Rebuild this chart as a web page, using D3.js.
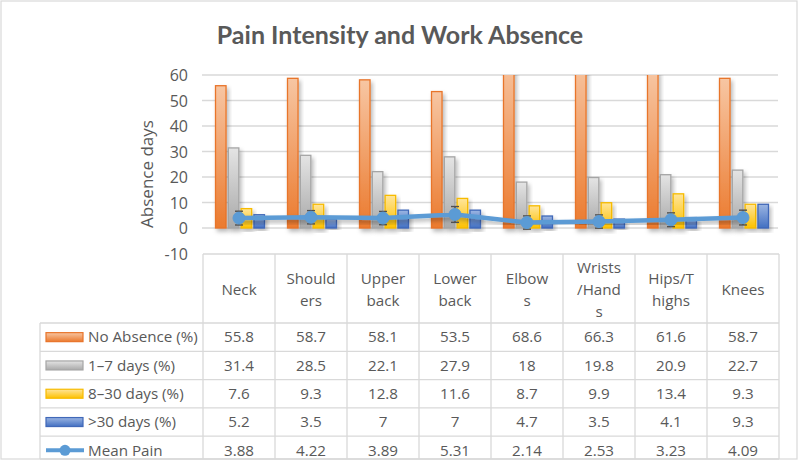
<!DOCTYPE html>
<html><head><meta charset="utf-8">
<script src="https://cdn.jsdelivr.net/npm/d3@7/dist/d3.min.js"></script>
<style>
html,body{margin:0;padding:0;background:#fff;}
svg{display:block;font-family:"Open Sans",sans-serif;}
</style></head>
<body><svg id="chart" width="800" height="461"></svg>
<script>
const title = "Pain Intensity and Work Absence";
const yLabel = "Absence days";
const categories = ["Neck","Shoulders","Upper back","Lower back","Elbows","Wrists/Hands","Hips/Thighs","Knees"];
const headerLines = [["Neck"],["Should","ers"],["Upper","back"],["Lower","back"],["Elbow","s"],["Wrists","/Hand","s"],["Hips/T","highs"],["Knees"]];
const seriesNames = ["No Absence (%)","1–7 days (%)","8–30 days (%)",">30 days (%)","Mean Pain"];
const noAbsence = [55.8,58.7,58.1,53.5,68.6,66.3,61.6,58.7];
const days1to7 = [31.4,28.5,22.1,27.9,18,19.8,20.9,22.7];
const days8to30 = [7.6,9.3,12.8,11.6,8.7,9.9,13.4,9.3];
const over30 = [5.2,3.5,7,7,4.7,3.5,4.1,9.3];
const meanPain = [3.88,4.22,3.89,5.31,2.14,2.53,3.23,4.09];
const painError = [2.7,2.6,2.6,3.1,2.6,2.6,2.7,2.9];
const yTicks = [-10,0,10,20,30,40,50,60];

const barSeries = [noAbsence, days1to7, days8to30, over30];
const barColors = [
  {top:"#f7c6a3", bot:"#eb7a2e", stroke:"#e8742a"},
  {top:"#e4e4e4", bot:"#a9a9a9", stroke:"#a5a5a5"},
  {top:"#ffe59a", bot:"#fdc100", stroke:"#f7bb00"},
  {top:"#9bb5e2", bot:"#4370c2", stroke:"#4068b8"}
];
const lineColor = "#5b9bd5";
const textColor = "#595959";
const gridColor = "#d9d9d9";

const svg = d3.select("#chart");
const W = 800, H = 461;
const plotL = 203, plotR = 779, plotT = 75, plotB = 253.5;
const rowTop = 254, headerBottom = 323, rowH = 28.3, legendL = 40, tableBottom = 459;
const tableFont = 15.2;

const defs = svg.append("defs");
barColors.forEach((c,i)=>{
  const g = defs.append("linearGradient").attr("id","grad"+i).attr("x1",0).attr("x2",0).attr("y1",0).attr("y2",1);
  g.append("stop").attr("offset","0%").attr("stop-color",c.top);
  g.append("stop").attr("offset","100%").attr("stop-color",c.bot);
});
const f = defs.append("filter").attr("id","shadow").attr("x","-50%").attr("y","-10%").attr("width","200%").attr("height","130%");
f.append("feDropShadow").attr("dx",2).attr("dy",3).attr("stdDeviation",2).attr("flood-color","#000").attr("flood-opacity",0.28);
defs.append("clipPath").attr("id","plotclip").append("rect").attr("x",plotL).attr("y",plotT).attr("width",plotR-plotL).attr("height",plotB-plotT+10);

// background + border
svg.append("rect").attr("x",1).attr("y",1).attr("width",W-4).attr("height",tableBottom-1).attr("fill","#fff").attr("stroke",gridColor).attr("stroke-width",1.2);

// title
svg.append("text").attr("x",400).attr("y",44).attr("text-anchor","middle")
  .attr("font-family","Lato, 'Open Sans', sans-serif").attr("font-weight","bold").attr("font-size",25)
  .attr("fill",textColor).text(title);

const x = d3.scaleBand().domain(categories).range([plotL, plotR]).padding(0);
const y = d3.scaleLinear().domain([-10,60]).range([plotB, plotT]);
const xs = d3.scaleBand().domain(d3.range(4)).range([12, x.bandwidth()-10]).paddingInner(0.1);

// grid
svg.append("g").selectAll("line").data(yTicks.filter(t=>t>-10)).join("line")
  .attr("x1",plotL-1).attr("x2",plotR-1).attr("y1",d=>y(d)).attr("y2",d=>y(d))
  .attr("stroke",gridColor).attr("stroke-width",1.3);

// y axis labels
const yAxis = d3.axisLeft(y).tickValues(yTicks).tickFormat(d=>String(d)).tickSize(0).tickPadding(0);
const ya = svg.append("g").attr("transform","translate(188,0)").call(yAxis);
ya.select(".domain").remove();
ya.selectAll("text").attr("font-family","'Open Sans', sans-serif").attr("font-size",16).attr("fill",textColor).attr("dy","0.35em");

svg.append("text").attr("transform","translate(153,174) rotate(-90)").attr("text-anchor","middle")
  .attr("font-size",17).attr("fill",textColor).text(yLabel);

// bars
const barsG = svg.append("g").attr("clip-path","url(#plotclip)");
barSeries.forEach((vals,si)=>{
  barsG.append("g").selectAll("rect").data(vals).join("rect")
    .attr("x",(d,i)=>x(categories[i])+xs(si)+0.5)
    .attr("y",d=>y(d))
    .attr("width",xs.bandwidth()-1)
    .attr("height",d=>y(0)-y(d))
    .attr("fill","url(#grad"+si+")")
    .attr("stroke",barColors[si].stroke).attr("stroke-width",1.3)
    .attr("filter","url(#shadow)");
});

// mean pain line
const cx = i => x(categories[i]) + x.bandwidth()/2;
const line = d3.line().x((d,i)=>cx(i)).y(d=>y(d));
svg.append("path").datum(meanPain).attr("d",line).attr("fill","none").attr("stroke",lineColor)
  .attr("stroke-width",4.5).attr("stroke-linejoin","round").attr("filter","url(#shadow)");
// error bars
const eg = svg.append("g").attr("stroke","#505050").attr("stroke-width",1.4);
meanPain.forEach((v,i)=>{
  const e = painError[i];
  eg.append("line").attr("x1",cx(i)).attr("x2",cx(i)).attr("y1",y(v+e)).attr("y2",y(v-e));
  eg.append("line").attr("x1",cx(i)-4).attr("x2",cx(i)+4).attr("y1",y(v+e)).attr("y2",y(v+e));
  eg.append("line").attr("x1",cx(i)-4).attr("x2",cx(i)+4).attr("y1",y(v-e)).attr("y2",y(v-e));
});
svg.append("g").selectAll("circle").data(meanPain).join("circle")
  .attr("cx",(d,i)=>cx(i)).attr("cy",d=>y(d)).attr("r",6).attr("fill",lineColor).attr("stroke",lineColor);

// data table
const tg = svg.append("g");
const rowTops = d3.range(5).map(r=>headerBottom + r*rowH);
const hl = (x1,x2,yy)=>tg.append("line").attr("x1",x1).attr("x2",x2).attr("y1",yy).attr("y2",yy).attr("stroke",gridColor).attr("stroke-width",1.3);
const vl = (xx,y1,y2)=>tg.append("line").attr("x1",xx).attr("x2",xx).attr("y1",y1).attr("y2",y2).attr("stroke",gridColor).attr("stroke-width",1.3);
hl(plotL, plotR, rowTop);
rowTops.forEach(t=>hl(legendL, plotR, t));
hl(legendL, plotR, tableBottom);
categories.forEach(c=>vl(x(c), rowTop, tableBottom));
vl(plotR, rowTop, tableBottom);
vl(legendL, headerBottom, tableBottom);

// header labels
const lineGap = 22;
categories.forEach((c,i)=>{
  const lines = headerLines[i];
  const mid = (rowTop+headerBottom)/2 + 1;
  lines.forEach((ln,k)=>{
    tg.append("text").attr("x",cx(i)).attr("y",mid + (k-(lines.length-1)/2)*lineGap)
      .attr("dy","0.35em").attr("text-anchor","middle").attr("font-size",tableFont).attr("fill",textColor).text(ln);
  });
});

// rows
const rowData = [noAbsence, days1to7, days8to30, over30, meanPain];
rowData.forEach((vals,r)=>{
  const cy = rowTops[r] + rowH/2;
  vals.forEach((v,i)=>{
    tg.append("text").attr("x",cx(i)).attr("y",cy).attr("dy","0.35em").attr("text-anchor","middle")
      .attr("font-size",tableFont).attr("fill",textColor).text(v);
  });
  // legend key
  if (r < 4) {
    tg.append("rect").attr("x",46).attr("y",cy-4.5).attr("width",37).attr("height",9)
      .attr("fill","url(#grad"+r+")").attr("stroke",barColors[r].stroke).attr("stroke-width",1.2);
  } else {
    tg.append("line").attr("x1",46).attr("x2",84).attr("y1",cy).attr("y2",cy).attr("stroke",lineColor).attr("stroke-width",4);
    tg.append("circle").attr("cx",65).attr("cy",cy).attr("r",5.5).attr("fill",lineColor);
  }
  tg.append("text").attr("x",88).attr("y",cy).attr("dy","0.35em").attr("font-size",tableFont).attr("fill",textColor).text(seriesNames[r]);
});
</script></body></html>
